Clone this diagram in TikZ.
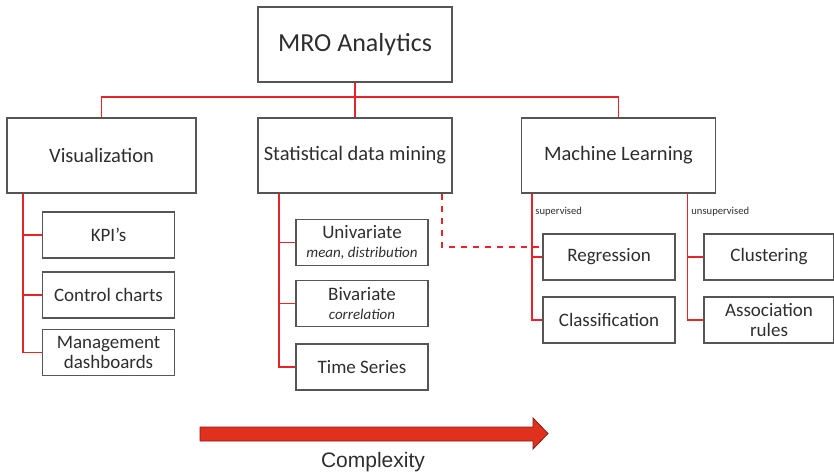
\documentclass[tikz,border=0pt]{standalone}
\usepackage{fontspec}
\setmainfont{Carlito}
\newfontfamily\arialfont{Liberation Sans}
\usetikzlibrary{positioning}
\definecolor{linkred}{HTML}{E8232A}
\definecolor{boxgray}{HTML}{555555}
\definecolor{txtgray}{HTML}{2E2E2E}
\definecolor{arrowred}{HTML}{E0301E}
\tikzset{
  bigbox/.style={draw=boxgray, line width=0.9pt, text=txtgray, minimum width=97pt,
    minimum height=37.5pt, inner sep=2pt, font=\fontsize{10.25}{11}\selectfont},
  smallbox/.style={draw=boxgray, line width=0.9pt, text=txtgray, minimum width=66pt,
    minimum height=23pt, inner sep=1pt, align=center, font=\fontsize{9.5}{9.75}\selectfont},
  link/.style={draw=linkred, line width=0.9pt},
  sublabel/.style={text=txtgray, anchor=west, inner sep=0pt, font=\fontsize{5.3}{6}\selectfont},
}
\newcommand{\subtxt}[1]{{\fontsize{7.5}{8}\selectfont\itshape #1}}

\begin{document}
\begin{tikzpicture}[x=0.5pt,y=-0.5pt]
  \useasboundingbox (0,0) rectangle (834,475);

  % top level
  \node[bigbox, font=\fontsize{13}{15}\selectfont] (mro) at (355,44.5) {MRO Analytics};
  \node[bigbox, minimum width=94.5pt] (vis) at (101.5,155.5) {Visualization};
  \node[bigbox] (stat) at (355,155.5) {Statistical data mining};
  \node[bigbox] (ml) at (618.5,155.5) {Machine Learning};

  \draw[link] (mro.south) -- ++(0,14) coordinate (bus);
  \draw[link] (vis.north) |- (bus) -| (ml.north);
  \draw[link] (bus) -- (stat.north);

  % visualization
  \node[smallbox] (kpi) at (108.5,235) {KPI's};
  \node[smallbox] (ctrl) at (108.5,295) {Control charts};
  \node[smallbox] (mgmt) at (108.5,352.5) {Management\\dashboards};
  \foreach \c in {kpi,ctrl,mgmt}{
    \draw[link] ([xshift=8.5pt]vis.south west) |- (\c.west);
  }

  % statistics
  \node[smallbox] (uni) at (362,242.5) {Univariate\\\subtxt{mean, distribution}};
  \node[smallbox] (bi) at (362,303.5) {Bivariate\\\subtxt{correlation}};
  \node[smallbox] (ts) at (362,367) {Time Series};
  \foreach \c in {uni,bi,ts}{
    \draw[link] ([xshift=11pt]stat.south west) |- (\c.west);
  }

  % machine learning
  \node[sublabel] (sup) at (535,212) {supervised};
  \node[sublabel] (unsup) at (691,212) {unsupervised};
  \node[smallbox] (reg) at (609,257) {Regression};
  \node[smallbox] (cls) at (609,320) {Classification};
  \node[smallbox, minimum width=65pt] (clu) at (769,257) {Clustering};
  \node[smallbox, minimum width=65pt] (asr) at (769,320) {Association\\rules};
  \foreach \c in {reg,cls}{
    \draw[link] ([xshift=5.5pt]ml.south west) |- (\c.west);
  }
  \foreach \c in {clu,asr}{
    \draw[link] ([xshift=-14.5pt]ml.south east) |- (\c.west);
  }
  \draw[link, dashed] ([xshift=-5.5pt]stat.south east) |- ([yshift=5pt]reg.west);

  % complexity arrow
  \draw[fill=arrowred, draw=arrowred!60!black, line width=0.4pt]
    (200,427) -- (533,427) -- (533,418) -- (548,433.5) -- (533,449) -- (533,441) -- (200,441) -- cycle;
  \node[text=txtgray, font=\arialfont\fontsize{10.5}{12}\selectfont] (cplx) at (373,462) {Complexity};
\end{tikzpicture}
\end{document}
